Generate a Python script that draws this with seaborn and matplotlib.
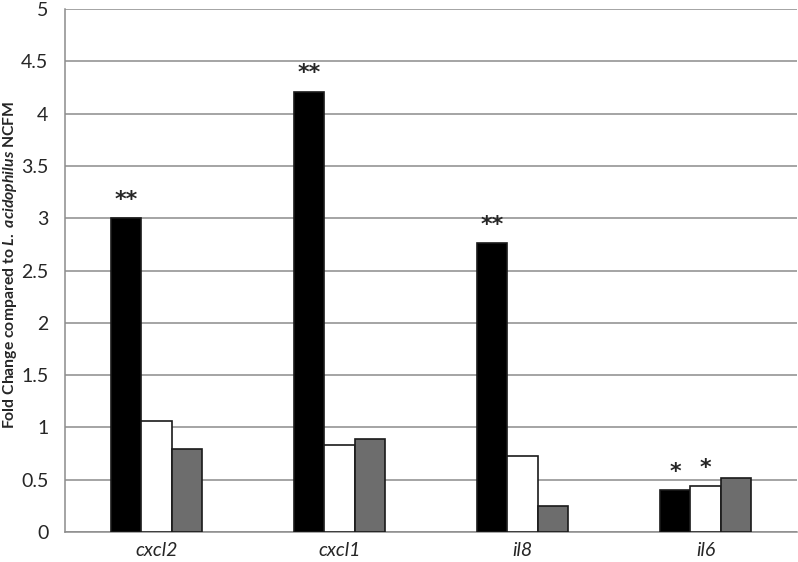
import matplotlib
matplotlib.use("Agg")
import matplotlib.pyplot as plt
import seaborn as sns
import pandas as pd

# values
genes = ["cxcl2", "cxcl1", "il8", "il6"]
series_names = ["Strain A", "Strain B", "Strain C"]
strain_a = [3.00, 4.21, 2.76, 0.40]
strain_b = [1.06, 0.83, 0.73, 0.44]
strain_c = [0.79, 0.89, 0.25, 0.52]
stars_a = ["**", "**", "**", "*"]
stars_b = ["", "", "", "*"]
stars_c = ["", "", "", ""]

df = pd.DataFrame({
    "gene": genes * 3,
    "series": [s for s in series_names for _ in genes],
    "value": strain_a + strain_b + strain_c,
})

sns.set_style("white")
plt.rcParams["font.family"] = ["Lato", "DejaVu Sans"]
plt.rcParams["mathtext.fontset"] = "custom"
plt.rcParams["mathtext.it"] = "Lato:italic:bold"
plt.rcParams["mathtext.rm"] = "Lato:bold"

fig = plt.figure(figsize=(7.98, 5.62), dpi=100)
ax = fig.add_axes([65 / 798, 30 / 562, 732 / 798, 523 / 562])

palette = ["#000000", "#ffffff", "#6d6d6d"]
sns.barplot(
    data=df, x="gene", y="value", hue="series", order=genes,
    hue_order=series_names, palette=palette, width=0.5,
    edgecolor="#1a1a1a", linewidth=1.2, legend=False, ax=ax, zorder=3,
)

ax.set_ylim(0, 5)
ax.set_xlim(-0.5, 3.5)
ax.set_yticks([i * 0.5 for i in range(11)])
ax.set_yticklabels(["0", "0.5", "1", "1.5", "2", "2.5", "3", "3.5", "4", "4.5", "5"])
ax.yaxis.grid(True, color="#8c8c8c", linewidth=1.1, zorder=0)
ax.set_axisbelow(True)

for side in ["top", "right"]:
    ax.spines[side].set_visible(False)
for side in ["left", "bottom"]:
    ax.spines[side].set_color("#8c8c8c")
    ax.spines[side].set_linewidth(1.1)

ax.tick_params(axis="y", length=6, color="#8c8c8c", width=1.1, labelsize=14, pad=6)
ax.tick_params(axis="x", length=0, labelsize=14, pad=7)
for lab in ax.get_xticklabels():
    lab.set_fontstyle("italic")

ax.set_xlabel("")
ax.set_ylabel(r"Fold Change compared to $\mathit{L.\ acidophilus}$ NCFM",
              fontsize=11.3, fontweight="bold")
ax.yaxis.set_label_coords(-46 / 732, 0.51)

for container, stars in zip(ax.containers, [stars_a, stars_b, stars_c]):
    for bar, s in zip(container, stars):
        if s:
            ax.text(bar.get_x() + bar.get_width() / 2, bar.get_height() + 0.08, s,
                    ha="center", va="bottom", fontsize=16, fontweight="bold",
                    family="DejaVu Sans")

fig.savefig("out.png", dpi=100)
